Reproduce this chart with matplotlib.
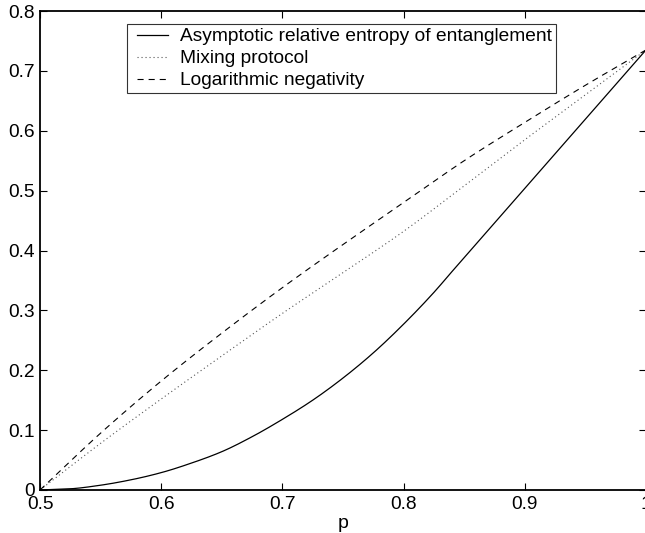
import numpy as np
import matplotlib
matplotlib.use("Agg")
import matplotlib.pyplot as plt
from matplotlib.ticker import FuncFormatter
from matplotlib.legend_handler import HandlerLine2D

plt.rcParams["font.family"] = ["Liberation Sans", "DejaVu Sans"]

# ---------- data ----------
p_smooth = [0.50, 0.55, 0.60, 0.65, 0.70, 0.75, 0.80, 0.85, 0.90, 0.95, 1.00]

log_neg = [0.000, 0.095, 0.182, 0.262, 0.338, 0.410, 0.480, 0.550, 0.614, 0.676, 0.735]
mixing  = [0.000, 0.078, 0.152, 0.224, 0.295, 0.363, 0.432, 0.508, 0.585, 0.660, 0.735]

p_rel = [0.500, 0.525, 0.550, 0.575, 0.600, 0.625, 0.650, 0.675, 0.700,
         0.725, 0.750, 0.775, 0.800, 0.825, 0.840, 1.000]
rel_ent = [0.000, 0.002, 0.008, 0.017, 0.029, 0.045, 0.064, 0.089, 0.118,
           0.150, 0.187, 0.229, 0.277, 0.330, 0.365, 0.735]

labels = ["Asymptotic relative entropy of entanglement",
          "Mixing protocol",
          "Logarithmic negativity"]

x_ticks = [0.5, 0.6, 0.7, 0.8, 0.9, 1.0]
y_ticks = [0, 0.1, 0.2, 0.3, 0.4, 0.5, 0.6, 0.7, 0.8]


# ---------- helper: monotone cubic (pchip) through the read points ----------
def pchip(xs, ys, n=300):
    xs = np.asarray(xs, float)
    ys = np.asarray(ys, float)
    h = np.diff(xs)
    d = np.diff(ys) / h
    m = np.zeros_like(ys)
    for k in range(1, len(xs) - 1):
        if d[k - 1] * d[k] > 0:
            w1 = 2 * h[k] + h[k - 1]
            w2 = h[k] + 2 * h[k - 1]
            m[k] = (w1 + w2) / (w1 / d[k - 1] + w2 / d[k])
    m[0] = d[0]
    m[-1] = d[-1]
    xf = np.linspace(xs[0], xs[-1], n)
    i = np.clip(np.searchsorted(xs, xf) - 1, 0, len(h) - 1)
    t = (xf - xs[i]) / h[i]
    h00 = 2 * t**3 - 3 * t**2 + 1
    h10 = t**3 - 2 * t**2 + t
    h01 = -2 * t**3 + 3 * t**2
    h11 = t**3 - t**2
    yf = h00 * ys[i] + h10 * h[i] * m[i] + h01 * ys[i + 1] + h11 * h[i] * m[i + 1]
    return xf, yf


# ---------- chart ----------
fig = plt.figure(figsize=(6.45, 5.33), dpi=100)
ax = fig.add_axes([40 / 645, 1 - 490 / 533, 606 / 645, 479 / 533])

# curved part then straight segment up to p = 1
x1, y1 = pchip(p_rel[:-1], rel_ent[:-1])
x1 = np.append(x1, p_rel[-1])
y1 = np.append(y1, rel_ent[-1])
x2, y2 = pchip(p_smooth, mixing)
x3, y3 = pchip(p_smooth, log_neg)

ax.plot(x1, y1, color="black", linewidth=0.9, label=labels[0])
ax.plot(x2, y2, color="#555555", linewidth=0.8, linestyle=(0, (1, 2.6)), label=labels[1])
ax.plot(x3, y3, color="black", linewidth=0.8, linestyle=(0, (5.5, 4.5)), label=labels[2])

ax.set_xlim(0.5, 1.0)
ax.set_ylim(0, 0.8)
ax.set_xticks(x_ticks)
ax.set_yticks(y_ticks)
ax.xaxis.set_major_formatter(FuncFormatter(lambda v, _: f"{v:g}"))
ax.yaxis.set_major_formatter(FuncFormatter(lambda v, _: f"{v:g}"))
ax.tick_params(direction="in", length=5, width=0.8, top=True, right=True,
               labelsize=13.8, colors="black")
ax.tick_params(axis="x", pad=4)
ax.tick_params(axis="y", pad=3.5)
for s in ax.spines.values():
    s.set_linewidth(1.3)

ax.set_xlabel("p", fontsize=14, labelpad=2)

leg = ax.legend(loc="upper left", bbox_to_anchor=(127 / 645, 1 - 24 / 533),
                bbox_transform=fig.transFigure, prop={"size": 13.8}, frameon=True,
                fancybox=False, handlelength=1.94, handletextpad=0.62,
                borderpad=0.2, labelspacing=0.24, borderaxespad=0,
                handler_map={plt.Line2D: HandlerLine2D(xpad=0.32)})
leg.get_frame().set_edgecolor("black")
leg.get_frame().set_linewidth(0.8)

fig.savefig("out.png", dpi=100)
plt.close(fig)
